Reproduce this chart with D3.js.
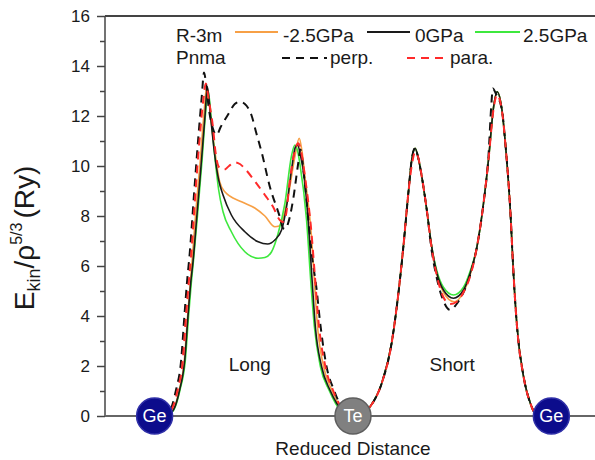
<!DOCTYPE html>
<html lang="en">
<head>
<meta charset="utf-8">
<title>Ekin/rho^5/3 along Ge-Te-Ge</title>
<script src="https://d3js.org/d3.v7.min.js"></script>
<style>
body { margin: 0; background: #fff; }
text { font-family: "Liberation Sans", Arial, sans-serif; fill: #1a1a1a; }
</style>
</head>
<body>
<script>
// reduced distance: Ge = 0, Te = 1, Ge = 2 ; values in Ry
var gpaM25 = [[0.025,0],[0.086,0.16],[0.124,1.04],[0.15,2.24],[0.166,3.97],[0.18,5.32],[0.19,6.3],[0.207,8.1],[0.229,10.1],[0.249,12.1],[0.263,13.2],
  [0.283,11.92],[0.303,10.64],[0.328,9.37],[0.354,8.97],[0.438,8.57],[0.505,8.32],[0.556,8.0],[0.606,7.57],[0.628,7.6],[0.645,7.85],[0.673,8.77],[0.707,10.37],[0.729,11.11],[0.742,10.64],[0.758,9.57],[0.791,7.17],[0.806,5.3],[0.821,3.6],[0.852,1.97],[0.893,1.04],[0.925,0.51],[0.964,0.08],[1,0],
  [1.045,0.06],[1.086,0.37],[1.145,1.31],[1.195,2.92],[1.229,4.91],[1.254,6.77],[1.279,8.91],[1.296,10.24],[1.313,10.71],[1.328,10.36],[1.347,9.57],[1.372,8.24],[1.397,6.77],[1.423,5.65],[1.456,4.95],[1.51,4.57],[1.557,4.95],[1.591,5.65],[1.625,6.77],[1.658,8.51],[1.683,10.24],[1.709,12.37],[1.726,12.97],[1.751,12.24],[1.768,10.91],[1.793,8.24],[1.81,5.57],[1.827,3.57],[1.86,1.57],[1.894,0.51],[1.919,0.11],[1.97,0]];

var gpa0 = [[0.025,0],[0.086,0.16],[0.126,1.04],[0.152,2.24],[0.168,3.97],[0.182,5.32],[0.194,6.2],[0.213,8],[0.234,10],[0.254,12],[0.266,13.17],
  [0.283,11.92],[0.303,10.44],[0.323,9.44],[0.345,8.84],[0.387,8.04],[0.455,7.37],[0.522,6.97],[0.57,6.88],[0.606,7.04],[0.64,7.44],[0.665,8.37],[0.69,9.84],[0.71,10.76],[0.721,10.84],[0.735,10.44],[0.749,9.84],[0.774,7.84],[0.795,5.3],[0.81,3.6],[0.842,1.97],[0.884,1.04],[0.918,0.51],[0.96,0.08],[1,0],
  [1.045,0.06],[1.086,0.37],[1.145,1.31],[1.195,2.92],[1.229,4.91],[1.254,6.77],[1.279,8.91],[1.296,10.24],[1.313,10.71],[1.328,10.36],[1.347,9.57],[1.372,8.24],[1.397,6.77],[1.423,5.71],[1.456,5.04],[1.507,4.71],[1.557,5.04],[1.591,5.71],[1.625,6.77],[1.658,8.51],[1.683,10.24],[1.709,12.37],[1.726,12.97],[1.751,12.24],[1.768,10.91],[1.793,8.24],[1.81,5.57],[1.827,3.57],[1.86,1.57],[1.894,0.51],[1.919,0.11],[1.97,0]];

var gpa25 = [[0.025,0],[0.088,0.16],[0.128,1.04],[0.155,2.24],[0.171,3.97],[0.185,5.32],[0.197,6.3],[0.217,8.1],[0.238,10.1],[0.257,12.1],[0.27,13.0],
  [0.288,11.64],[0.308,10.04],[0.323,9.04],[0.345,8.17],[0.387,7.37],[0.455,6.57],[0.522,6.31],[0.556,6.34],[0.589,6.56],[0.623,7.31],[0.657,8.51],[0.69,10.4],[0.707,10.84],[0.722,10.56],[0.732,10.11],[0.766,7.84],[0.788,5.3],[0.805,3.6],[0.836,1.97],[0.879,1.04],[0.912,0.51],[0.955,0.08],[1,0],
  [1.045,0.06],[1.086,0.37],[1.145,1.31],[1.195,2.92],[1.229,4.91],[1.254,6.77],[1.279,8.91],[1.296,10.24],[1.313,10.71],[1.328,10.36],[1.347,9.57],[1.372,8.24],[1.397,6.77],[1.423,5.8],[1.456,5.15],[1.507,4.84],[1.557,5.15],[1.591,5.8],[1.625,6.77],[1.658,8.51],[1.683,10.24],[1.709,12.37],[1.726,12.97],[1.751,12.24],[1.768,10.91],[1.793,8.24],[1.81,5.57],[1.827,3.57],[1.86,1.57],[1.894,0.51],[1.919,0.11],[1.97,0]];

var pnmaPerp = [[0.025,0],[0.075,0.2],[0.108,1.04],[0.134,2.24],[0.15,3.97],[0.163,5.32],[0.177,6.5],[0.2,9],[0.222,11.3],[0.238,12.8],[0.249,13.74],
  [0.26,13.24],[0.273,12.32],[0.293,11.52],[0.313,11.24],[0.333,11.56],[0.369,12.04],[0.404,12.48],[0.429,12.57],[0.455,12.48],[0.488,12.04],[0.513,11.31],[0.539,10.57],[0.581,9.17],[0.631,7.97],[0.648,7.51],[0.659,7.48],[0.673,7.71],[0.698,8.64],[0.724,10.11],[0.735,10.66],[0.753,9.64],[0.773,8.04],[0.793,6.44],[0.817,5.04],[0.833,3.84],[0.867,1.97],[0.904,1.04],[0.934,0.48],[0.97,0.08],[1,0],
  [1.045,0.06],[1.086,0.37],[1.145,1.31],[1.195,2.92],[1.229,4.91],[1.254,6.77],[1.279,8.91],[1.296,10.24],[1.313,10.72],[1.328,10.36],[1.347,9.57],[1.372,8.24],[1.397,6.6],[1.423,5.5],[1.456,4.6],[1.49,4.24],[1.52,4.45],[1.557,4.95],[1.591,5.65],[1.625,6.77],[1.658,8.51],[1.683,10.4],[1.697,12.4],[1.705,13.1],[1.72,12.9],[1.751,12.24],[1.768,10.91],[1.793,8.24],[1.81,5.57],[1.827,3.57],[1.86,1.57],[1.894,0.51],[1.919,0.11],[1.97,0]];

var pnmaPara = [[0.025,0],[0.08,0.2],[0.116,1.04],[0.142,2.24],[0.158,3.97],[0.172,5.32],[0.185,6.5],[0.203,8.6],[0.225,10.9],[0.245,12.6],[0.258,13.3],
  [0.273,12.64],[0.293,11.64],[0.308,10.5],[0.325,9.95],[0.35,9.85],[0.375,10.0],[0.404,10.15],[0.43,10.08],[0.46,9.85],[0.5,9.45],[0.556,8.84],[0.597,8.37],[0.631,7.84],[0.646,7.76],[0.662,8.04],[0.682,9.44],[0.702,10.44],[0.724,10.91],[0.737,10.64],[0.758,9.57],[0.791,7.3],[0.808,5.6],[0.826,3.8],[0.861,1.97],[0.899,1.04],[0.929,0.51],[0.967,0.08],[1,0],
  [1.045,0.06],[1.086,0.37],[1.145,1.31],[1.195,2.92],[1.229,4.91],[1.254,6.77],[1.279,8.91],[1.296,10.0],[1.313,10.55],[1.33,10.3],[1.347,9.57],[1.372,8.24],[1.397,6.7],[1.423,5.6],[1.456,4.75],[1.49,4.48],[1.52,4.55],[1.557,4.95],[1.591,5.6],[1.625,6.77],[1.658,8.51],[1.683,10.24],[1.709,12.3],[1.726,12.85],[1.751,12.2],[1.768,10.91],[1.793,8.24],[1.81,5.57],[1.827,3.57],[1.86,1.57],[1.894,0.51],[1.919,0.11],[1.97,0]];

var yMajor = [0, 2, 4, 6, 8, 10, 12, 14, 16];
var yMinor = [1, 3, 5, 7, 9, 11, 13, 15];
var atomNames = ["Ge", "Te", "Ge"];
var atomPos = [0, 1, 2];
var bondNames = ["Long", "Short"];
var bondPos = [0.48, 1.5];

// drawing order and styles
var series = [
  { data: gpaM25, color: "#f7a046", dash: null },
  { data: gpa25, color: "#3ee83e", dash: null },
  { data: gpa0, color: "#1a1a1a", dash: null },
  { data: pnmaPerp, color: "#111111", dash: "8,6" },
  { data: pnmaPara, color: "#ff2a2a", dash: "8,6" }
];

var w = 595, h = 460;
var x = d3.scaleLinear().domain([-0.25, 2.22]).range([105, 595]);
var y = d3.scaleLinear().domain([0, 16]).range([416, 16]);

var svg = d3.select("body").append("svg")
  .attr("width", w)
  .attr("height", h);

// y axis, major and minor ticks
var gy = svg.append("g").attr("transform", "translate(105,0)")
  .call(d3.axisLeft(y).tickValues(yMajor).tickSize(8).tickPadding(7).tickFormat(d3.format("d")));
gy.select(".domain").remove();
gy.selectAll("line").attr("stroke", "#444").attr("stroke-width", 1.5);
gy.selectAll("text").attr("font-size", 17).style("font-family", '"Liberation Sans", Arial, sans-serif').attr("fill", "#1a1a1a");

var gyMinor = svg.append("g").attr("transform", "translate(105,0)")
  .call(d3.axisLeft(y).tickValues(yMinor).tickSize(5).tickFormat(""));
gyMinor.select(".domain").remove();
gyMinor.selectAll("line").attr("stroke", "#444").attr("stroke-width", 1.5);

// frame
svg.append("line").attr("x1", 105).attr("x2", 105).attr("y1", y(16)).attr("y2", y(0))
  .attr("stroke", "#444").attr("stroke-width", 1.5);
svg.append("line").attr("x1", 105).attr("x2", w).attr("y1", y(16)).attr("y2", y(16))
  .attr("stroke", "#444").attr("stroke-width", 1.8);
svg.append("line").attr("x1", 105).attr("x2", w).attr("y1", y(0)).attr("y2", y(0))
  .attr("stroke", "#666").attr("stroke-width", 1.8);

// curves
var line = d3.line()
  .x(function(d) { return x(d[0]); })
  .y(function(d) { return y(d[1]); })
  .curve(d3.curveMonotoneX);

svg.selectAll(".curve")
  .data(series)
  .enter()
  .append("path")
  .attr("class", "curve")
  .attr("d", function(d) { return line(d.data); })
  .attr("fill", "none")
  .attr("stroke", function(d) { return d.color; })
  .attr("stroke-width", function(d) { return d.dash ? 2 : 1.6; })
  .attr("stroke-dasharray", function(d) { return d.dash; });

// atoms on the baseline
var atoms = svg.selectAll(".atom")
  .data(atomNames)
  .enter()
  .append("g")
  .attr("class", "atom")
  .attr("transform", function(d, i) { return "translate(" + x(atomPos[i]) + "," + y(0) + ")"; });
atoms.append("circle")
  .attr("r", 18)
  .attr("fill", function(d) { return d == "Ge" ? "#0c0c8c" : "#808080"; })
  .attr("stroke", function(d) { return d == "Ge" ? "#3030a8" : "#5e5e5e"; })
  .attr("stroke-width", 1.5);
atoms.append("text")
  .attr("text-anchor", "middle")
  .attr("dy", "0.36em")
  .attr("font-size", 18)
  .style("fill", "#fff")
  .text(function(d) { return d; });

// bond labels
svg.selectAll(".bond")
  .data(bondNames)
  .enter()
  .append("text")
  .attr("class", "bond")
  .attr("x", function(d, i) { return x(bondPos[i]); })
  .attr("y", 371)
  .attr("text-anchor", "middle")
  .attr("font-size", 19)
  .text(function(d) { return d; });

// axis titles
svg.append("text")
  .attr("x", 353)
  .attr("y", 455)
  .attr("text-anchor", "middle")
  .attr("font-size", 19)
  .text("Reduced Distance");

var yl = svg.append("text")
  .attr("transform", "translate(34,238) rotate(-90)")
  .attr("text-anchor", "middle")
  .attr("font-size", 28);
yl.append("tspan").text("E");
yl.append("tspan").text("kin").attr("font-size", 18).attr("dy", 6);
yl.append("tspan").text("/ρ").attr("dy", -6);
yl.append("tspan").text("5/3").attr("font-size", 16).attr("dy", -12);
yl.append("tspan").text("(Ry)").attr("dy", 12).attr("dx", 4);

// legend
var legendText = [
  { t: "R-3m", x: 176, y: 42 },
  { t: "-2.5GPa", x: 283, y: 42 },
  { t: "0GPa", x: 415, y: 42 },
  { t: "2.5GPa", x: 523, y: 42 },
  { t: "Pnma", x: 176, y: 64 },
  { t: "perp.", x: 330, y: 64 },
  { t: "para.", x: 450, y: 64 }
];
var legendLines = [
  { x1: 235, x2: 278, y: 32, s: series[0] },
  { x1: 367, x2: 410, y: 32, s: series[2] },
  { x1: 475, x2: 520, y: 32, s: series[1] },
  { x1: 282, x2: 327, y: 58, s: series[3] },
  { x1: 407, x2: 447, y: 58, s: series[4] }
];
svg.selectAll(".legtext")
  .data(legendText)
  .enter()
  .append("text")
  .attr("class", "legtext")
  .attr("x", function(d) { return d.x; })
  .attr("y", function(d) { return d.y; })
  .attr("font-size", 19)
  .text(function(d) { return d.t; });
svg.selectAll(".legline")
  .data(legendLines)
  .enter()
  .append("line")
  .attr("class", "legline")
  .attr("x1", function(d) { return d.x1; })
  .attr("x2", function(d) { return d.x2; })
  .attr("y1", function(d) { return d.y; })
  .attr("y2", function(d) { return d.y; })
  .attr("stroke", function(d) { return d.s.color; })
  .attr("stroke-width", 2.2)
  .attr("stroke-dasharray", function(d) { return d.s.dash; });
</script>
</body>
</html>
